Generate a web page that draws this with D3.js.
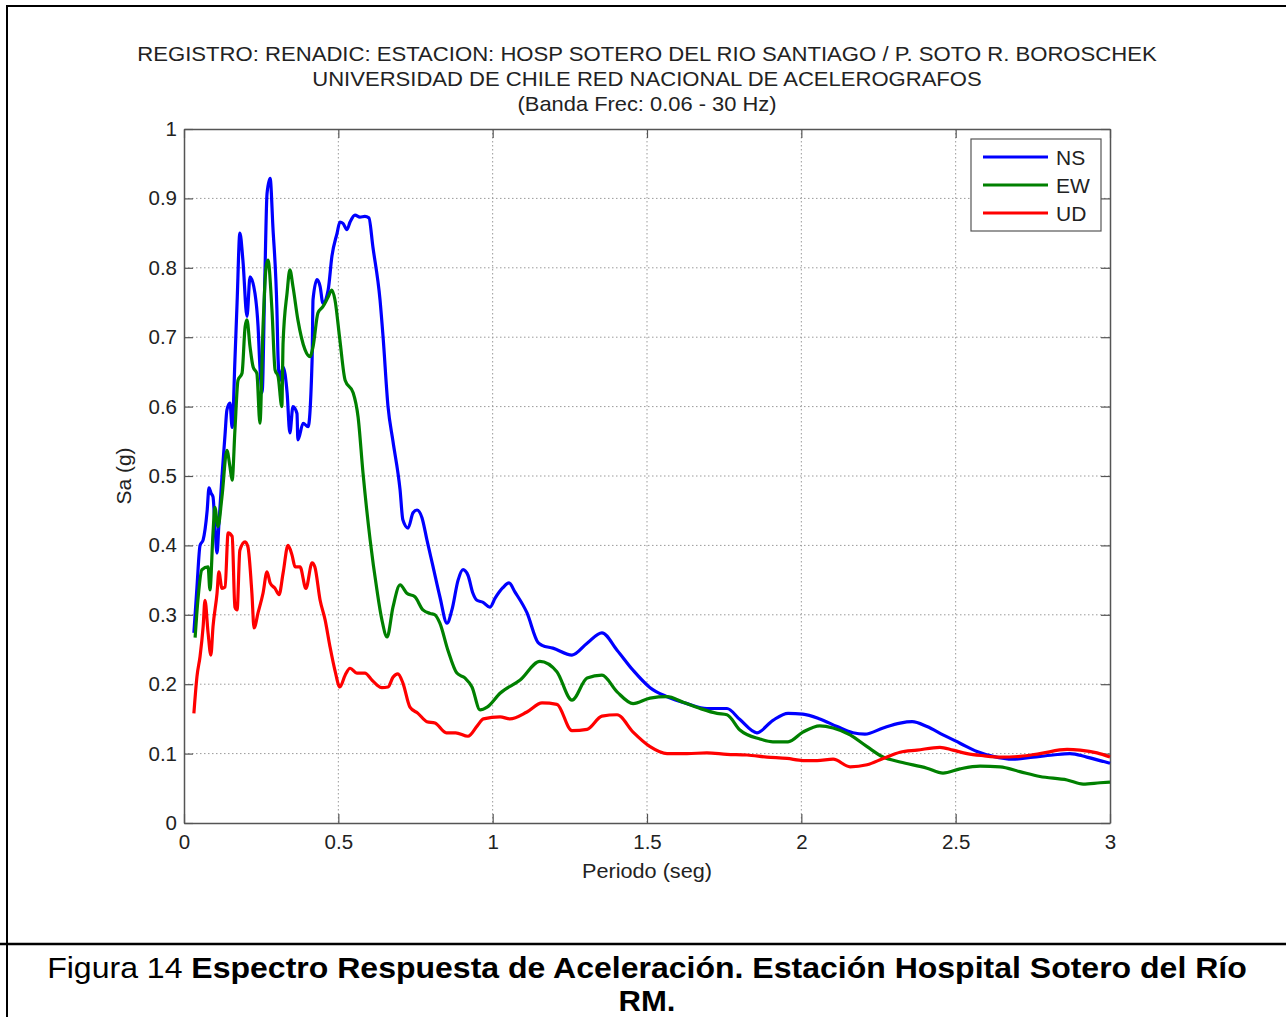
<!DOCTYPE html>
<html>
<head>
<meta charset="utf-8">
<script src="https://cdn.jsdelivr.net/npm/d3@7"></script>
<style>
  html, body { margin: 0; padding: 0; background: #fff; }
  svg { display: block; }
  text { font-family: "Liberation Sans", Arial, sans-serif; }
</style>
</head>
<body>
<svg id="chart" width="1286" height="1017"></svg>
<script>
// Response spectrum, three components: period (s) vs spectral acceleration (g)
const componentNames = ["NS", "EW", "UD"];
const componentColors = ["#0000ff", "#008000", "#ff0000"];

const nsSeries = [
  [0.032,0.274],[0.042,0.34],[0.052,0.40],[0.062,0.408],[0.075,0.45],[0.081,0.483],[0.088,0.475],
  [0.094,0.47],[0.100,0.43],[0.107,0.389],[0.113,0.43],[0.123,0.499],[0.133,0.56],[0.139,0.595],
  [0.149,0.605],[0.156,0.57],[0.165,0.667],[0.172,0.75],[0.181,0.85],[0.191,0.81],[0.204,0.73],
  [0.214,0.787],[0.230,0.763],[0.240,0.715],[0.246,0.657],[0.253,0.62],[0.262,0.787],[0.269,0.907],
  [0.279,0.929],[0.288,0.859],[0.301,0.74],[0.305,0.667],[0.311,0.638],[0.321,0.657],[0.334,0.62],
  [0.343,0.562],[0.353,0.6],[0.366,0.59],[0.369,0.552],[0.386,0.576],[0.402,0.571],[0.415,0.667],
  [0.418,0.754],[0.431,0.783],[0.441,0.773],[0.450,0.749],[0.467,0.768],[0.479,0.816],[0.496,0.85],
  [0.505,0.866],[0.515,0.864],[0.528,0.855],[0.538,0.866],[0.554,0.876],[0.570,0.873],[0.586,0.874],
  [0.599,0.872],[0.612,0.83],[0.635,0.754],[0.645,0.70],[0.661,0.60],[0.677,0.55],[0.700,0.48],
  [0.709,0.437],[0.726,0.425],[0.742,0.447],[0.755,0.451],[0.771,0.44],[0.787,0.408],[0.807,0.369],
  [0.829,0.326],[0.852,0.288],[0.868,0.307],[0.888,0.35],[0.904,0.365],[0.920,0.357],[0.936,0.331],
  [0.949,0.321],[0.969,0.318],[0.991,0.311],[1.008,0.324],[1.033,0.339],[1.053,0.346],[1.072,0.333],
  [1.111,0.303],[1.147,0.26],[1.160,0.256],[1.195,0.252],[1.257,0.242],[1.306,0.259],[1.354,0.274],
  [1.403,0.249],[1.455,0.22],[1.510,0.195],[1.565,0.182],[1.630,0.172],[1.694,0.165],[1.759,0.165],
  [1.801,0.149],[1.856,0.13],[1.908,0.148],[1.957,0.158],[2.005,0.157],[2.060,0.15],[2.116,0.139],
  [2.167,0.13],[2.206,0.128],[2.265,0.137],[2.320,0.144],[2.359,0.146],[2.407,0.139],[2.459,0.127],
  [2.514,0.115],[2.569,0.103],[2.621,0.096],[2.686,0.092],[2.751,0.095],[2.815,0.098],[2.870,0.1],
  [2.925,0.095],[3.0,0.086]
];

const ewSeries = [
  [0.036,0.267],[0.045,0.321],[0.058,0.365],[0.078,0.369],[0.084,0.336],[0.094,0.418],[0.100,0.455],
  [0.110,0.427],[0.123,0.47],[0.139,0.537],[0.149,0.513],[0.156,0.494],[0.165,0.566],[0.175,0.638],
  [0.188,0.648],[0.198,0.715],[0.204,0.725],[0.214,0.686],[0.224,0.657],[0.236,0.648],[0.246,0.576],
  [0.256,0.715],[0.266,0.801],[0.272,0.811],[0.285,0.739],[0.295,0.653],[0.305,0.643],[0.317,0.6],
  [0.321,0.692],[0.334,0.764],[0.343,0.797],[0.353,0.773],[0.369,0.725],[0.392,0.682],[0.408,0.672],
  [0.418,0.686],[0.434,0.735],[0.450,0.744],[0.467,0.758],[0.479,0.768],[0.489,0.754],[0.505,0.696],
  [0.522,0.638],[0.548,0.62],[0.564,0.585],[0.580,0.504],[0.603,0.408],[0.625,0.336],[0.641,0.293],
  [0.658,0.268],[0.677,0.311],[0.700,0.343],[0.722,0.331],[0.748,0.326],[0.774,0.307],[0.797,0.302],
  [0.813,0.3],[0.829,0.288],[0.855,0.249],[0.884,0.216],[0.910,0.209],[0.933,0.196],[0.959,0.163],
  [0.982,0.167],[1.024,0.187],[1.089,0.206],[1.153,0.233],[1.208,0.218],[1.257,0.177],[1.306,0.209],
  [1.354,0.213],[1.403,0.189],[1.455,0.172],[1.510,0.18],[1.565,0.182],[1.617,0.174],[1.672,0.165],
  [1.727,0.158],[1.759,0.156],[1.801,0.134],[1.866,0.121],[1.908,0.117],[1.957,0.117],[2.005,0.131],
  [2.060,0.140],[2.103,0.137],[2.158,0.127],[2.213,0.11],[2.265,0.095],[2.320,0.088],[2.407,0.079],
  [2.459,0.072],[2.514,0.078],[2.579,0.082],[2.644,0.081],[2.708,0.074],[2.773,0.067],[2.861,0.062],
  [2.913,0.056],[2.968,0.058],[3.0,0.059]
];

const udSeries = [
  [0.032,0.158],[0.042,0.211],[0.052,0.24],[0.062,0.283],[0.068,0.321],[0.078,0.274],[0.087,0.242],
  [0.094,0.283],[0.107,0.331],[0.113,0.362],[0.123,0.338],[0.133,0.34],[0.143,0.418],[0.156,0.413],
  [0.165,0.311],[0.172,0.307],[0.181,0.393],[0.198,0.405],[0.207,0.398],[0.220,0.331],[0.227,0.281],
  [0.240,0.303],[0.256,0.331],[0.269,0.362],[0.279,0.346],[0.295,0.338],[0.308,0.329],[0.321,0.36],
  [0.337,0.4],[0.350,0.386],[0.360,0.369],[0.376,0.369],[0.395,0.338],[0.415,0.375],[0.424,0.369],
  [0.441,0.321],[0.457,0.293],[0.473,0.254],[0.489,0.22],[0.505,0.196],[0.522,0.213],[0.538,0.223],
  [0.560,0.216],[0.586,0.216],[0.609,0.206],[0.625,0.199],[0.641,0.195],[0.661,0.196],[0.677,0.21],
  [0.693,0.215],[0.709,0.202],[0.732,0.167],[0.758,0.158],[0.787,0.146],[0.813,0.144],[0.85,0.13],
  [0.88,0.13],[0.92,0.125],[0.95,0.14],[0.97,0.15],[1.024,0.153],[1.056,0.15],[1.111,0.16],
  [1.160,0.173],[1.208,0.171],[1.257,0.133],[1.306,0.135],[1.354,0.154],[1.403,0.156],[1.455,0.131],
  [1.510,0.11],[1.565,0.1],[1.630,0.1],[1.694,0.101],[1.759,0.099],[1.824,0.098],[1.889,0.095],
  [1.954,0.093],[2.005,0.09],[2.051,0.09],[2.103,0.092],[2.158,0.081],[2.213,0.084],[2.265,0.093],
  [2.320,0.102],[2.375,0.105],[2.449,0.109],[2.491,0.105],[2.537,0.1],[2.589,0.097],[2.644,0.095],
  [2.708,0.096],[2.773,0.1],[2.861,0.106],[2.903,0.105],[2.958,0.101],[3.0,0.095]
];

const xTicks = [0, 0.5, 1, 1.5, 2, 2.5, 3];
const yTicks = [0, 0.1, 0.2, 0.3, 0.4, 0.5, 0.6, 0.7, 0.8, 0.9, 1];

const titleLines = [
  "REGISTRO: RENADIC: ESTACION: HOSP SOTERO DEL RIO SANTIAGO / P. SOTO R. BOROSCHEK",
  "UNIVERSIDAD DE CHILE RED NACIONAL DE ACELEROGRAFOS",
  "(Banda Frec: 0.06 - 30 Hz)"
];
const xLabel = "Periodo (seg)";
const yLabel = "Sa (g)";
const captionPrefix = "Figura 14 ";
const captionBold1 = "Espectro Respuesta de Aceleración. Estación Hospital Sotero del Río";
const captionBold2 = "RM.";

const svg = d3.select("#chart");
const W = 1286, H = 1017;

// Stretch a centred text horizontally so it spans a given width
function fitWidth(sel, cxPos, width) {
  const w = sel.node().getComputedTextLength();
  const s = width / w;
  sel.attr("transform", `translate(${cxPos},0) scale(${s},1) translate(${-cxPos},0)`);
}

// Page frame: top and left rules, plus caption separator
svg.append("line").attr("x1", 7).attr("x2", W).attr("y1", 6).attr("y2", 6)
  .attr("stroke", "#000").attr("stroke-width", 2);
svg.append("line").attr("x1", 7).attr("x2", 7).attr("y1", 5).attr("y2", H)
  .attr("stroke", "#000").attr("stroke-width", 2);
svg.append("line").attr("x1", 0).attr("x2", W).attr("y1", 944).attr("y2", 944)
  .attr("stroke", "#000").attr("stroke-width", 2.5);

const plot = { left: 184, right: 1110, top: 129, bottom: 823 };
const x = d3.scaleLinear().domain([0, 3]).range([plot.left, plot.right]);
const y = d3.scaleLinear().domain([0, 1]).range([plot.bottom, plot.top]);

const g = svg.append("g");

// Dotted grid
g.append("g").selectAll("line").data(xTicks.slice(1, -1)).join("line")
  .attr("x1", d => x(d)).attr("x2", d => x(d))
  .attr("y1", plot.top).attr("y2", plot.bottom)
  .attr("stroke", "#9a9a9a").attr("stroke-width", 1).attr("stroke-dasharray", "1.5,2.5");
g.append("g").selectAll("line").data(yTicks.slice(1, -1)).join("line")
  .attr("x1", plot.left).attr("x2", plot.right)
  .attr("y1", d => y(d)).attr("y2", d => y(d))
  .attr("stroke", "#9a9a9a").attr("stroke-width", 1).attr("stroke-dasharray", "1.5,2.5");

// Axes with inward ticks on all four sides
const axisColor = "#555";
const tickLen = 9;
function styleAxis(sel) {
  sel.selectAll("path").attr("stroke", axisColor).attr("stroke-width", 1.5);
  sel.selectAll("line").attr("stroke", axisColor).attr("stroke-width", 1.2);
  sel.selectAll("text").attr("fill", "#222").style("font-size", "20.5px")
    .style("font-family", "'Liberation Sans', Arial, sans-serif");
}
const fmt = d => String(d);
g.append("g").attr("transform", `translate(0,${plot.bottom})`)
  .call(d3.axisBottom(x).tickValues(xTicks).tickFormat(fmt).tickSizeInner(-tickLen).tickSizeOuter(0).tickPadding(11))
  .call(styleAxis);
g.append("g").attr("transform", `translate(0,${plot.top})`)
  .call(d3.axisTop(x).tickValues(xTicks).tickFormat("").tickSizeInner(-tickLen).tickSizeOuter(0))
  .call(styleAxis);
g.append("g").attr("transform", `translate(${plot.left},0)`)
  .call(d3.axisLeft(y).tickValues(yTicks).tickFormat(fmt).tickSizeInner(-tickLen).tickSizeOuter(0).tickPadding(7))
  .call(styleAxis);
g.append("g").attr("transform", `translate(${plot.right},0)`)
  .call(d3.axisRight(y).tickValues(yTicks).tickFormat("").tickSizeInner(-tickLen).tickSizeOuter(0))
  .call(styleAxis);

// Spectra
const line = d3.line().x(d => x(d[0])).y(d => y(d[1])).curve(d3.curveMonotoneX);
const allSeries = [nsSeries, ewSeries, udSeries];
g.append("g").selectAll("path").data(allSeries).join("path")
  .attr("d", line)
  .attr("fill", "none")
  .attr("stroke", (d, i) => componentColors[i])
  .attr("stroke-width", 3.2)
  .attr("stroke-linejoin", "round");

// Legend
const lg = g.append("g").attr("transform", "translate(971,139)");
lg.append("rect").attr("width", 130).attr("height", 92)
  .attr("fill", "#fff").attr("stroke", "#555").attr("stroke-width", 1.2);
componentNames.forEach((name, i) => {
  const yy = 18 + i * 28;
  lg.append("line").attr("x1", 12).attr("x2", 77).attr("y1", yy).attr("y2", yy)
    .attr("stroke", componentColors[i]).attr("stroke-width", 3);
  lg.append("text").attr("x", 85).attr("y", yy).attr("dy", "0.36em")
    .attr("fill", "#222").style("font-size", "21px").text(name);
});

// Titles and axis labels
const titleWidths = [1020, 670, 259];
const cx = (plot.left + plot.right) / 2;
titleLines.forEach((t, i) => {
  const tt = svg.append("text").attr("x", cx).attr("y", 61 + i * 25)
    .attr("text-anchor", "middle").attr("fill", "#222")
    .style("font-size", "20.5px").text(t);
  fitWidth(tt, cx, titleWidths[i]);
});
const xl = svg.append("text").attr("x", cx).attr("y", 878).attr("text-anchor", "middle")
  .attr("fill", "#222").style("font-size", "20.5px").text(xLabel);
fitWidth(xl, cx, 130);
svg.append("text").attr("transform", `translate(131,476) rotate(-90)`)
  .attr("text-anchor", "middle").attr("fill", "#222").style("font-size", "21px").text(yLabel);

// Caption
const cap1 = svg.append("text").attr("x", cx).attr("y", 978).attr("text-anchor", "middle")
  .style("font-size", "30px").attr("fill", "#000");
cap1.append("tspan").text(captionPrefix);
cap1.append("tspan").attr("font-weight", "bold").text(captionBold1);
fitWidth(cap1, cx, 1200);
const cap2 = svg.append("text").attr("x", cx).attr("y", 1011).attr("text-anchor", "middle")
  .style("font-size", "30px").attr("font-weight", "bold").attr("fill", "#000").text(captionBold2);
fitWidth(cap2, cx, 57);
</script>
</body>
</html>
